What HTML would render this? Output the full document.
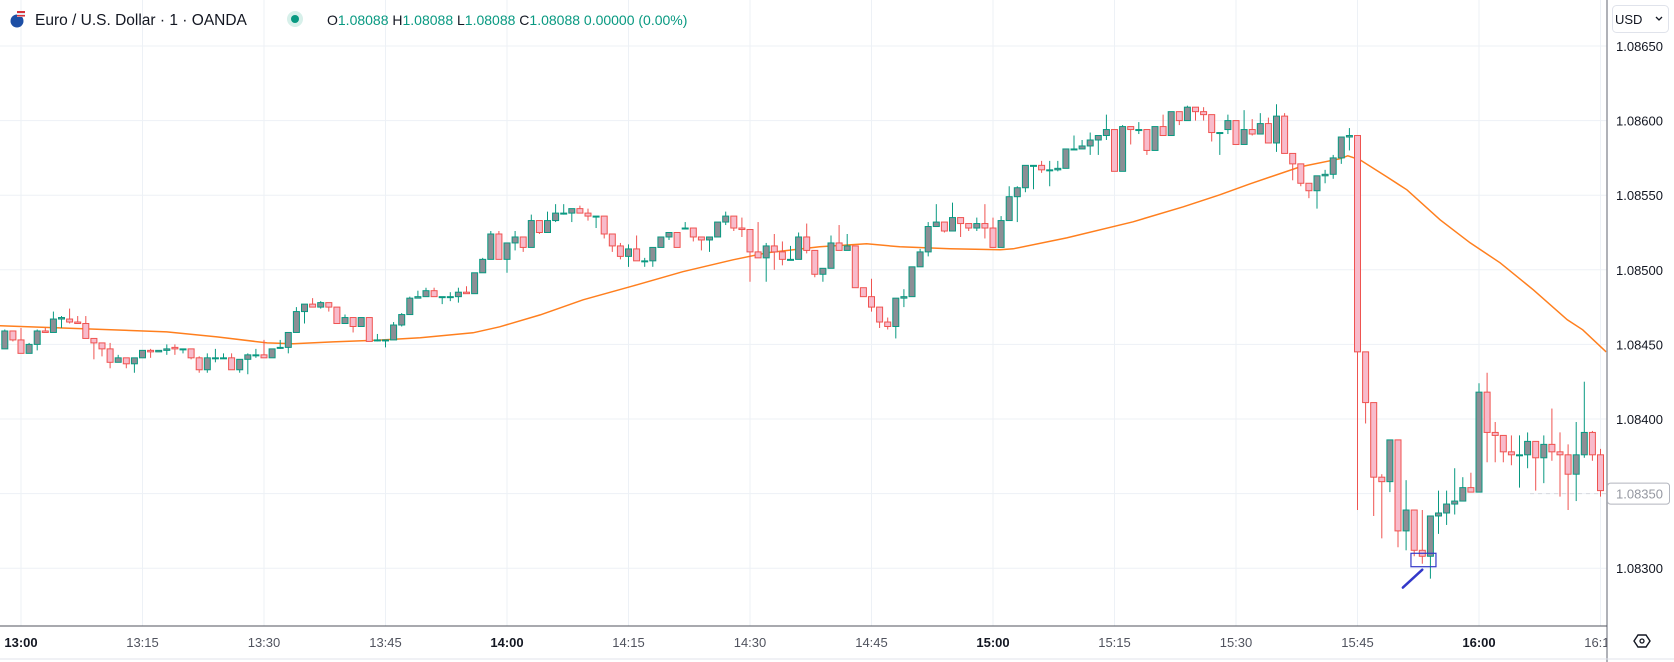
<!DOCTYPE html>
<html><head><meta charset="utf-8"><style>
html,body{margin:0;padding:0;background:#fff;width:1674px;height:662px;overflow:hidden}
svg{display:block;font-family:"Liberation Sans",sans-serif}
</style></head><body>
<svg id="chart" width="1674" height="662" viewBox="0 0 1674 662" xmlns="http://www.w3.org/2000/svg">
<rect x="0" y="0" width="1674" height="662" fill="#ffffff"/>
<g id="grid"></g>
<g id="ma"></g>
<g id="candles"></g>
<g id="annot"></g>
<line x1="1607" y1="0" x2="1607" y2="662" stroke="#9598a1" stroke-width="1.5"/>
<line x1="0" y1="626" x2="1607" y2="626" stroke="#50535e" stroke-width="1"/>
<line x1="0" y1="659" x2="1674" y2="659" stroke="#e0e3eb" stroke-width="1"/>
<g id="yaxis"></g>
<clipPath id="tclip"><rect x="0" y="626" width="1607" height="36"/></clipPath>
<g id="xaxis" clip-path="url(#tclip)"></g>
<g>
  <g>
    <circle cx="17" cy="21" r="6.5" fill="#1d4fa5"/>
    <rect x="17" y="11" width="8" height="6" fill="#e8e8f0"/>
    <rect x="17" y="11" width="8" height="2" fill="#d8333a"/>
    <rect x="17" y="15" width="8" height="1.5" fill="#d8333a"/>
  </g>
  <text x="35" y="25" font-size="15.5" fill="#131722">Euro / U.S. Dollar · 1 · OANDA</text>
  <circle cx="295" cy="19" r="8" fill="#d7f0ea"/>
  <circle cx="295" cy="19" r="4" fill="#089981"/>
  <text x="327" y="25" font-size="14" fill="#131722">O<tspan fill="#089981">1.08088</tspan> H<tspan fill="#089981">1.08088</tspan> L<tspan fill="#089981">1.08088</tspan> C<tspan fill="#089981">1.08088 0.00000 (0.00%)</tspan></text>
</g>
<g>
  <rect x="1612.5" y="5.5" width="56" height="27" rx="4" fill="#fff" stroke="#e0e3eb"/>
  <text x="1615" y="24" font-size="13" fill="#131722">USD</text>
  <path d="M1656 17 l3 3 l3 -3" fill="none" stroke="#131722" stroke-width="1.3"/>
</g>
<g>
  <path d="M1634 641 l4 -6 h8 l4 6 l-4 6 h-8 z" fill="none" stroke="#131722" stroke-width="1.4"/>
  <circle cx="1642" cy="641" r="2" fill="none" stroke="#131722" stroke-width="1.3"/>
</g>
</svg>
<script>
const opens=[1.08447,1.08459,1.08453,1.08444,1.08450,1.08459,1.08458,1.08467,1.08467,1.08465,1.08464,1.08454,1.08451,1.08447,1.08438,1.08441,1.08437,1.08441,1.08446,1.08445,1.08446,1.08448,1.08447,1.08447,1.08441,1.08433,1.08441,1.08441,1.08441,1.08433,1.08440,1.08443,1.08443,1.08441,1.08448,1.08448,1.08458,1.08472,1.08477,1.08475,1.08478,1.08475,1.08464,1.08468,1.08462,1.08468,1.08453,1.08453,1.08453,1.08463,1.08470,1.08481,
1.08482,1.08486,1.08482,1.08482,1.08482,1.08485,1.08484,1.08498,1.08507,1.08524,1.08507,1.08518,1.08522,1.08515,1.08533,1.08525,1.08533,1.08538,1.08538,1.08541,1.08538,1.08536,1.08536,1.08524,1.08516,1.08509,1.08514,1.08506,1.08506,1.08515,1.08522,1.08525,1.08528,1.08528,1.08522,1.08520,1.08522,1.08532,1.08536,1.08528,1.08527,1.08512,1.08508,1.08516,1.08512,1.08507,1.08507,1.08522,1.08513,
1.08497,1.08501,1.08518,1.08513,1.08516,1.08488,1.08482,1.08475,1.08465,1.08462,1.08481,1.08482,1.08502,1.08512,1.08529,1.08532,1.08526,1.08535,1.08531,1.08528,1.08531,1.08528,1.08515,1.08533,1.08549,1.08555,1.08570,1.08570,1.08567,1.08567,1.08568,1.08581,1.08581,1.08583,1.08587,1.08590,1.08594,1.08566,1.08596,1.08594,1.08594,1.08580,1.08596,1.08590,1.08606,1.08600,1.08609,1.08606,1.08604,1.08592,
1.08594,1.08600,1.08584,1.08594,1.08591,1.08598,1.08585,1.08603,1.08578,1.08571,1.08558,1.08553,1.08563,1.08564,1.08575,1.08589,1.08590,1.08445,1.08411,1.08361,1.08358,1.08386,1.08325,1.08339,1.08312,1.08308,1.08335,1.08337,1.08343,1.08345,1.08354,1.08351,1.08418,1.08391,1.08389,1.08378,1.08376,1.08376,1.08385,1.08374,1.08383,1.08378,1.08376,1.08363,1.08376,1.08391,1.08376];
const highs=[1.08460,1.08459,1.08461,1.08451,1.08460,1.08461,1.08472,1.08469,1.08474,1.08469,1.08469,1.08454,1.08451,1.08451,1.08443,1.08441,1.08441,1.08446,1.08447,1.08446,1.08450,1.08450,1.08447,1.08447,1.08442,1.08444,1.08447,1.08444,1.08444,1.08440,1.08444,1.08447,1.08453,1.08447,1.08453,1.08458,1.08475,1.08477,1.08481,1.08479,1.08478,1.08475,1.08470,1.08468,1.08468,1.08468,1.08457,1.08453,1.08465,1.08471,1.08482,1.08486,
1.08488,1.08488,1.08482,1.08485,1.08488,1.08489,1.08498,1.08508,1.08526,1.08526,1.08518,1.08526,1.08522,1.08537,1.08533,1.08539,1.08544,1.08544,1.08541,1.08543,1.08541,1.08536,1.08536,1.08524,1.08518,1.08517,1.08523,1.08508,1.08515,1.08522,1.08525,1.08525,1.08532,1.08528,1.08522,1.08522,1.08532,1.08539,1.08536,1.08535,1.08527,1.08532,1.08518,1.08524,1.08519,1.08516,1.08525,1.08531,1.08513,
1.08501,1.08523,1.08530,1.08524,1.08516,1.08488,1.08494,1.08475,1.08468,1.08481,1.08487,1.08502,1.08514,1.08532,1.08544,1.08532,1.08545,1.08535,1.08531,1.08535,1.08544,1.08535,1.08536,1.08556,1.08556,1.08570,1.08570,1.08573,1.08573,1.08573,1.08581,1.08590,1.08587,1.08592,1.08590,1.08604,1.08594,1.08597,1.08596,1.08599,1.08594,1.08596,1.08604,1.08606,1.08606,1.08610,1.08609,1.08609,1.08604,1.08592,
1.08604,1.08600,1.08607,1.08601,1.08605,1.08602,1.08611,1.08605,1.08578,1.08571,1.08558,1.08563,1.08567,1.08577,1.08589,1.08595,1.08590,1.08445,1.08411,1.08363,1.08386,1.08386,1.08359,1.08339,1.08339,1.08335,1.08352,1.08352,1.08367,1.08361,1.08364,1.08424,1.08431,1.08398,1.08389,1.08389,1.08389,1.08391,1.08385,1.08389,1.08407,1.08391,1.08383,1.08398,1.08425,1.08392,1.08380];
const lows=[1.08447,1.08452,1.08444,1.08444,1.08446,1.08458,1.08458,1.08461,1.08464,1.08464,1.08454,1.08440,1.08442,1.08434,1.08438,1.08434,1.08431,1.08441,1.08441,1.08445,1.08443,1.08443,1.08444,1.08440,1.08431,1.08431,1.08438,1.08441,1.08433,1.08431,1.08430,1.08441,1.08441,1.08441,1.08447,1.08444,1.08458,1.08464,1.08475,1.08474,1.08472,1.08464,1.08464,1.08458,1.08462,1.08452,1.08452,1.08448,1.08453,1.08462,1.08470,1.08481,
1.08482,1.08482,1.08477,1.08479,1.08478,1.08484,1.08484,1.08498,1.08507,1.08507,1.08498,1.08513,1.08512,1.08515,1.08524,1.08525,1.08532,1.08537,1.08532,1.08538,1.08533,1.08528,1.08521,1.08512,1.08507,1.08502,1.08506,1.08502,1.08502,1.08515,1.08520,1.08515,1.08528,1.08519,1.08513,1.08512,1.08522,1.08530,1.08526,1.08522,1.08492,1.08508,1.08492,1.08500,1.08503,1.08507,1.08507,1.08511,1.08495,
1.08492,1.08501,1.08513,1.08513,1.08488,1.08482,1.08472,1.08461,1.08460,1.08454,1.08475,1.08482,1.08502,1.08509,1.08529,1.08525,1.08526,1.08522,1.08526,1.08526,1.08521,1.08515,1.08515,1.08533,1.08532,1.08552,1.08554,1.08565,1.08556,1.08566,1.08568,1.08581,1.08581,1.08577,1.08577,1.08587,1.08566,1.08566,1.08584,1.08591,1.08577,1.08580,1.08590,1.08590,1.08597,1.08600,1.08600,1.08600,1.08586,1.08577,
1.08591,1.08584,1.08584,1.08590,1.08591,1.08585,1.08579,1.08578,1.08560,1.08556,1.08548,1.08541,1.08558,1.08561,1.08571,1.08580,1.08339,1.08397,1.08335,1.08320,1.08351,1.08314,1.08312,1.08308,1.08303,1.08293,1.08323,1.08329,1.08336,1.08345,1.08351,1.08351,1.08371,1.08371,1.08371,1.08369,1.08354,1.08367,1.08352,1.08357,1.08372,1.08348,1.08339,1.08345,1.08374,1.08372,1.08348];
const closes=[1.08459,1.08453,1.08444,1.08450,1.08459,1.08458,1.08467,1.08468,1.08465,1.08464,1.08454,1.08451,1.08447,1.08438,1.08441,1.08437,1.08441,1.08446,1.08445,1.08446,1.08447,1.08447,1.08447,1.08441,1.08433,1.08441,1.08441,1.08441,1.08433,1.08440,1.08443,1.08443,1.08441,1.08447,1.08448,1.08458,1.08472,1.08477,1.08475,1.08478,1.08475,1.08464,1.08468,1.08462,1.08468,1.08452,1.08453,1.08453,1.08463,1.08470,1.08481,1.08482,
1.08486,1.08482,1.08482,1.08482,1.08485,1.08484,1.08498,1.08507,1.08524,1.08507,1.08518,1.08522,1.08515,1.08533,1.08525,1.08533,1.08538,1.08538,1.08541,1.08538,1.08536,1.08536,1.08524,1.08516,1.08509,1.08514,1.08506,1.08506,1.08515,1.08522,1.08525,1.08515,1.08528,1.08522,1.08520,1.08522,1.08532,1.08536,1.08528,1.08527,1.08512,1.08508,1.08516,1.08512,1.08507,1.08507,1.08522,1.08513,1.08497,
1.08501,1.08518,1.08513,1.08516,1.08488,1.08482,1.08475,1.08465,1.08462,1.08481,1.08482,1.08502,1.08512,1.08529,1.08532,1.08526,1.08535,1.08531,1.08528,1.08531,1.08528,1.08515,1.08533,1.08549,1.08555,1.08570,1.08570,1.08567,1.08567,1.08568,1.08581,1.08581,1.08583,1.08587,1.08590,1.08594,1.08566,1.08596,1.08594,1.08594,1.08580,1.08596,1.08590,1.08606,1.08600,1.08609,1.08606,1.08604,1.08592,1.08592,
1.08600,1.08584,1.08594,1.08591,1.08598,1.08585,1.08603,1.08578,1.08571,1.08558,1.08553,1.08563,1.08564,1.08575,1.08589,1.08590,1.08445,1.08411,1.08361,1.08358,1.08386,1.08325,1.08339,1.08312,1.08308,1.08335,1.08337,1.08343,1.08345,1.08354,1.08351,1.08418,1.08391,1.08389,1.08378,1.08376,1.08376,1.08385,1.08374,1.08383,1.08378,1.08376,1.08363,1.08376,1.08391,1.08376,1.08352];
// moving average: candle index and value
const maIndex=[-0.6,9.7,20,26.2,32.4,35.6,40.5,46.7,51.3,57.8,61.1,66.1,71.4,77.6,83.7,89.9,94.1,100.6,106.4,110.5,116.7,122.9,124.5,131.1,139.3,145.5,150,153.7,159.9,164.8,165.8,167.3,170.6,173.1,177.2,180.9,184.6,188.7,192.9,194.8,197.7];
const maValues=[1.084625,1.084605,1.084584,1.08455,1.08451,1.084504,1.084517,1.08453,1.084544,1.084578,1.084618,1.084698,1.084799,1.084893,1.084987,1.085067,1.085114,1.085154,1.085174,1.085154,1.085141,1.085134,1.085141,1.085214,1.085322,1.085422,1.085503,1.085576,1.08569,1.085744,1.085764,1.085737,1.085623,1.085536,1.085335,1.085181,1.085047,1.084866,1.084665,1.084598,1.08445];
const priceTicks=[1.0865,1.0860,1.0855,1.0850,1.0845,1.0840,1.0835,1.0830];
const timeLabels=['13:00','13:15','13:30','13:45','14:00','14:15','14:30','14:45','15:00','15:15','15:30','15:45','16:00','16:15'];
const timeLabelIndex=[2,17,32,47,62,77,92,107,122,137,152,167,182,197];
const lastPrice=1.08350;

const NS='http://www.w3.org/2000/svg';
function yOf(p){return 46+(1.0865-p)*149200;}
function xOf(i){return 21+(i-2)*8.1;}
function mk(tag,attrs,parent){const e=document.createElementNS(NS,tag);for(const k in attrs)e.setAttribute(k,attrs[k]);parent.appendChild(e);return e;}

const grid=document.getElementById('grid');
priceTicks.forEach(p=>{const l=mk('line',{x1:0,x2:1607,y1:yOf(p),y2:yOf(p),stroke:'#edf1f6','stroke-width':1},grid);

});
timeLabelIndex.forEach(i=>{const l=mk('line',{x1:xOf(i),x2:xOf(i),y1:0,y2:626,stroke:'#edf1f6','stroke-width':1},grid);

});

const yax=document.getElementById('yaxis');
priceTicks.forEach(p=>{const t=mk('text',{x:1616,y:yOf(p)+5,'font-size':13,fill:'#131722'},yax);t.textContent=p.toFixed(5);

});
const ly=yOf(lastPrice);
const dl=mk('line',{x1:1530,x2:1607,y1:ly,y2:ly,stroke:'#d6d9df','stroke-dasharray':'4 4'},yax);


const lb=mk('rect',{x:1607.5,y:ly-10.5,width:62,height:21,rx:3,fill:'#fff',stroke:'#b2b5be'},yax);


const lt=mk('text',{x:1616,y:ly+5,'font-size':13,fill:'#9598a1'},yax);lt.textContent=lastPrice.toFixed(5);



const xax=document.getElementById('xaxis');
timeLabels.forEach((s,k)=>{const bold=s.endsWith(':00');const t=mk('text',{x:xOf(timeLabelIndex[k]),y:647,'font-size':13,'text-anchor':'middle',fill:bold?'#131722':'#50535e','font-weight':bold?'bold':'normal'},xax);t.textContent=s;

});

const ma=document.getElementById('ma');
let d='';maIndex.forEach((i,k)=>{d+=(k?'L':'M')+xOf(i).toFixed(1)+' '+yOf(maValues[k]).toFixed(1)+' ';});
const mp=mk('path',{d:d,fill:'none',stroke:'#ff7f1e','stroke-width':1.5},ma);



const cg=document.getElementById('candles');
opens.forEach((o,i)=>{const c=closes[i];const up=c>=o;const x=xOf(i);
const col=up?'#089981':'#ef5350';const fill=up?'#8c8e95':'#f8bbcb';
const w=mk('line',{x1:x,x2:x,y1:yOf(highs[i]),y2:yOf(lows[i]),stroke:col,'stroke-width':1},cg);


const top=yOf(Math.max(o,c)),bot=yOf(Math.min(o,c));
const b=mk('rect',{x:x-3,y:top,width:6,height:Math.max(1,bot-top),fill:fill,stroke:col,'stroke-width':1},cg);

});

const an=document.getElementById('annot');
const ar=mk('rect',{x:xOf(173.6),y:yOf(1.08310),width:25,height:yOf(1.08301)-yOf(1.08310),fill:'none',stroke:'#3338c9','stroke-width':1.2},an);


const aw=mk('line',{x1:xOf(172.6),y1:yOf(1.08287),x2:xOf(175.0),y2:yOf(1.08299),stroke:'#3338c9','stroke-width':2.5,'stroke-linecap':'round'},an);


</script>
</body></html>
